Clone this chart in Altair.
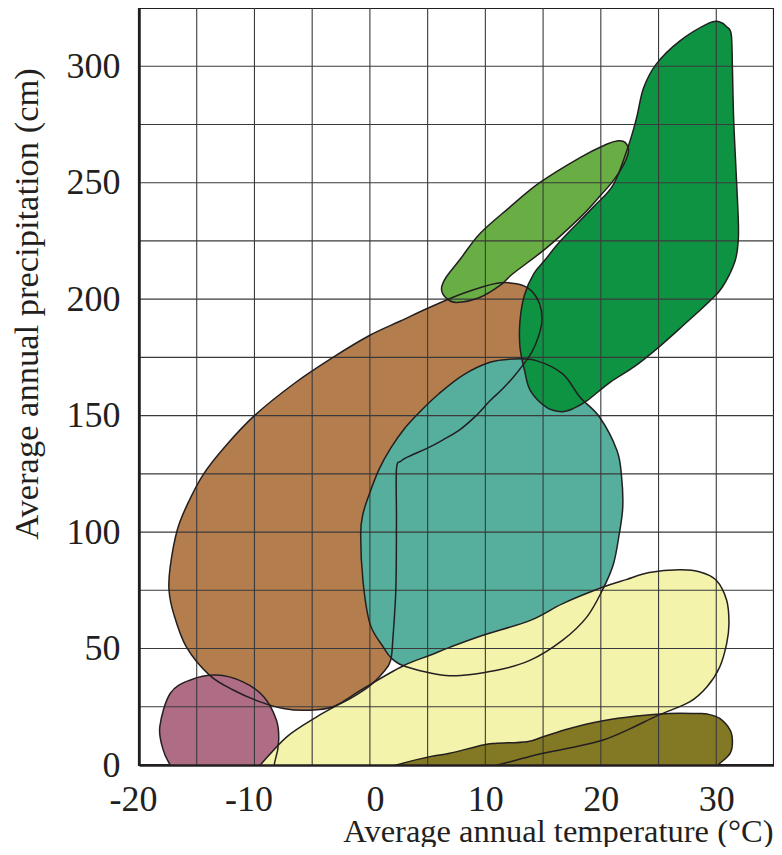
import altair as alt
import pandas as pd

# ---- biome outlines (temperature °C, precipitation cm) ----
TUNDRA_X = [-17.3, -17.9, -18.2, -17.3, -15.6, -13.3, -11.0, -9.2, -8.1, -7.9, -8.2, -9.0, -13.0, -16.6]
TUNDRA_Y = [0, 6.4, 16.4, 30.7, 36.4, 38.6, 35.7, 29.3, 19.3, 10.7, 2.1, -6, -10, -6]

BOREAL_X = [2.6, 0.0, -3.2, -6.5, -10.0, -12.5, -14.4, -15.8, -16.7, -17.3, -17.4, -17.0, -15.9, -13.9,
            -11.8, -9.5, -7.5, -5.5, -3.2, -0.3, 1.2, 1.8, 2.0, 2.25, 2.3, 2.3, 2.7, 3.6, 4.9, 6.3, 7.8,
            9.2, 10.4, 11.5, 12.4, 13.3, 14.0, 14.6, 14.9, 14.7, 13.9, 12.7, 11.0, 8.1, 5.2]
BOREAL_Y = [190.5, 184.5, 175, 164, 150, 137, 125, 112, 100.7, 85, 75, 65, 50.7, 38.6,
            32.1, 27.1, 24.3, 23.5, 25, 32.9, 40, 45, 55, 76, 105, 127, 130.5, 133, 135.8, 139.5, 144,
            150, 156.4, 161.5, 166.4, 172, 177, 184, 190.7, 197.9, 204.0, 206.6, 206.8, 202.5, 196.5]

TEMPERATE_X = [12.4, 14.4, 16.7, 18.2, 19.9, 21.4, 21.8, 21.9, 21.6, 21.1, 20.2, 18.8, 16.7, 13.9, 11.0,
               6.9, 3.2, 1.9, 1.15, 0.0, -0.6, -0.8, -0.6, 0.0, 0.8, 1.8, 3.0, 4.4, 6.0, 8.1, 10.4]
TEMPERATE_Y = [174.3, 173.6, 167.9, 157.9, 149.3, 135, 123.6, 110.7, 99.3, 86.4, 75.7, 63.6, 53.6, 45, 40.7,
               38.3, 42.1, 45.7, 50.7, 60.7, 79, 99, 107.8, 117, 127, 136, 144.5, 152, 159.5, 167.5, 172.9]

TROPICAL_X = [26.8, 29.4, 30.3, 30.9, 31.3, 31.4, 31.5, 31.7, 31.9, 31.9, 31.6, 30.5, 29.4, 27.2, 25.0,
              22.9, 20.8, 18.8, 17.6, 16.6, 15.3, 13.9, 13.4, 13.0, 13.0, 13.4, 14.2, 15.2, 16.5, 19.3,
              21.1, 22.4, 23.1, 23.7, 24.8]
TROPICAL_Y = [310.7, 318.6, 319, 317, 313.6, 299, 278, 256.4, 235, 225, 216, 205, 199, 189, 179.3,
              171, 164.3, 156.4, 153, 151.7, 153.5, 160.7, 169.3, 179.3, 190.7, 202, 211, 217, 225, 239.3,
              249.3, 266.0, 277.9, 290.6, 300.9]

RAINFOREST_X = [6.2, 6.6, 7.8, 9.5, 12.0, 14.7, 18.2, 20.5, 21.5, 22.1, 22.4, 22.0, 21.1, 19.7, 18.2,
                15.3, 12.4, 11.3, 9.5, 7.5, 6.6]
RAINFOREST_Y = [204.5, 209.4, 217, 228, 239, 250, 260.8, 266.5, 268, 267.3, 263.6, 258, 251, 243, 235,
                222, 211, 206, 200.7, 198.6, 200.5]

GRASSLAND_X = [-9.5, -7.2, -4.6, -2.6, -0.3, 2.9, 5.2, 6.9, 9.8, 13.9, 16.7, 20.2, 22.2, 24.2, 26.8, 28.6,
               30.0, 30.9, 31.1, 30.9, 30.3, 29.2, 27.7, 25.0, 22.5, 20.2, 17.5, 15.0, 11.3, 8.0, 0.0,
               -8.0, -10.6]
GRASSLAND_Y = [0, 12.1, 20.7, 26.4, 33.6, 42.6, 47.1, 50.5, 55.7, 62.1, 69.3, 76.4, 79.6, 82.6, 83.8, 82.9,
               79.3, 70.7, 60.7, 52.1, 42.1, 33.6, 27.1, 21.4, 15.5, 10.7, 7.5, 5.0, 0.3, -4, -8,
               -8, -6]

DESERT_X = [2.3, 5.2, 6.9, 9.8, 11.0, 13.6, 15.0, 17.3, 20.2, 23.1, 25.9, 28.3, 29.2, 30.3, 31.2, 31.4,
            31.2, 30.3, 29.0, 20.0, 5.0, 0.0]
DESERT_Y = [0, 3.6, 5.0, 8.6, 9.3, 10.0, 12.1, 15.7, 19.0, 21.0, 22.1, 22.1, 21.9, 20.0, 15.0, 10.0,
            5.0, 0.7, -4, -7, -7, -4]

# drawing order (bottom to top) and fill colours
BIOMES = ["boreal", "tundra", "temperate", "tropical", "rainforest", "grassland", "desert"]
COLORS = {
    "boreal": "#B47D4E",
    "tundra": "#AE6D85",
    "temperate": "#56AF9D",
    "tropical": "#0E9343",
    "rainforest": "#69AD45",
    "grassland": "#F3F3AB",
    "desert": "#837823",
}
POINTS = {
    "boreal": (BOREAL_X, BOREAL_Y),
    "tundra": (TUNDRA_X, TUNDRA_Y),
    "temperate": (TEMPERATE_X, TEMPERATE_Y),
    "tropical": (TROPICAL_X, TROPICAL_Y),
    "rainforest": (RAINFOREST_X, RAINFOREST_Y),
    "grassland": (GRASSLAND_X, GRASSLAND_Y),
    "desert": (DESERT_X, DESERT_Y),
}

GRID_X = [-15, -10, -5, 0, 5, 10, 15, 20, 25, 30]
GRID_Y = [25, 50, 75, 100, 125, 150, 175, 200, 225, 250, 275, 300]
X_TICKS = [-20, -10, 0, 10, 20, 30]
Y_TICKS = [0, 50, 100, 150, 200, 250, 300]

FONT = "Liberation Serif"
INK = "#231f20"


def frame(name):
    xs, ys = POINTS[name]
    return pd.DataFrame({"x": xs, "y": ys, "i": list(range(len(xs))), "biome": name})


x_enc = alt.X(
    "x:Q",
    scale=alt.Scale(domain=[-20, 35], nice=False, zero=False),
    axis=alt.Axis(
        values=X_TICKS, grid=False, ticks=False, tickSize=0, labelExpr="'' + datum.value",
        labelOffset={"condition": [{"test": "datum.value < 0", "value": -6},
                                   {"test": "datum.value == 0", "value": 5}],
                     "value": 0},
        labelFlush=False, labelOverlap=False, labelPadding=17, labelFont=FONT, labelFontSize=36,
        labelColor=INK, domainColor=INK, domainWidth=2.5,
        title="Average annual temperature (°C)", titleFont=FONT, titleFontSize=32.5,
        titleFontWeight="normal", titleColor=INK, titleX=634, titleY=76,
        titleAlign="right", titleBaseline="alphabetic", zindex=1,
    ),
)
y_enc = alt.Y(
    "y:Q",
    scale=alt.Scale(domain=[0, 325], nice=False, zero=False),
    axis=alt.Axis(
        values=Y_TICKS, grid=False, ticks=False, tickSize=0, labelExpr="'' + datum.value",
        labelOverlap=False, labelPadding=19, labelFont=FONT, labelFontSize=36, labelColor=INK,
        domainColor=INK, domainWidth=2.5,
        title="Average annual precipitation (cm)", titleFont=FONT, titleFontSize=34.5,
        titleFontWeight="normal", titleColor=INK, titleAngle=270, titleX=-102, titleY=295.5,
        titleAlign="center", titleBaseline="alphabetic", zindex=1,
    ),
)

layers = []
for name in BIOMES:
    layers.append(
        alt.Chart(frame(name))
        .mark_line(interpolate="cardinal-closed", clip=True, strokeOpacity=0, strokeWidth=0)
        .encode(x=x_enc, y=y_enc, order=alt.Order("i:Q"), fill=alt.value(COLORS[name]))
    )

grid_v = (
    alt.Chart(pd.DataFrame({"x": GRID_X}))
    .mark_rule(color="#3a3a3a", strokeWidth=1.1)
    .encode(x=x_enc)
)
grid_h = (
    alt.Chart(pd.DataFrame({"y": GRID_Y}))
    .mark_rule(color="#3a3a3a", strokeWidth=1.1)
    .encode(y=y_enc)
)

outlines = (
    alt.Chart(pd.concat([frame(n) for n in BIOMES], ignore_index=True))
    .mark_line(interpolate="cardinal-closed", clip=True, color=INK, strokeWidth=1.5)
    .encode(x=x_enc, y=y_enc, order=alt.Order("i:Q"), detail=alt.Detail("biome:N"))
)

chart = (
    alt.layer(*layers, grid_v, grid_h, outlines)
    .properties(
        width=635,
        height=757,
        padding={"left": 131, "top": 0, "right": 0, "bottom": 82},
        autosize=alt.AutoSizeParams(type="none"),
        background="white",
    )
    .configure_view(stroke=INK, strokeWidth=2.2)
)

chart.save("out.html", embed_options={"renderer": "svg", "actions": False})
